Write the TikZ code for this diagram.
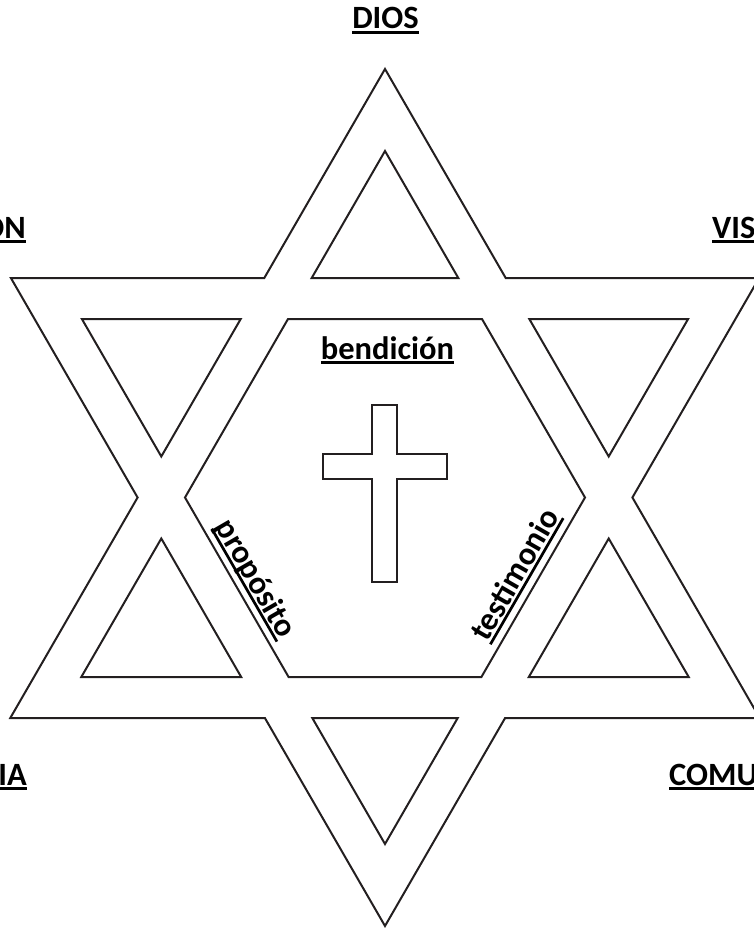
\documentclass[tikz,border=0pt]{standalone}
\usepackage{fontspec}
\setmainfont{Carlito}
\definecolor{ink}{RGB}{35,31,32}
\newsavebox\ulsave
\newcommand{\ulword}[1]{\sbox\ulsave{#1}\rlap{\rule[-4.8pt]{\wd\ulsave}{2.7pt}}\usebox\ulsave}
\begin{document}
\begin{tikzpicture}[x=1pt,y=-1pt,
  band/.style={draw=ink, line width=2pt, line join=miter},
  crossline/.style={draw=ink, line width=2.8pt, line join=miter},
  lbl/.style={font=\bfseries\fontsize{32.5}{38}\selectfont, text=black, inner sep=0pt}]
\useasboundingbox (0,0) rectangle (754,928);
% outer star outline
\draw[band] (385,69) -- (505.7,278) -- (759.1,278) -- (632.4,497.5) -- (759.7,718)
  -- (505.1,718) -- (385,926) -- (264.9,718) -- (10.3,718) -- (137.6,497.5)
  -- (10.9,278) -- (264.3,278) -- cycle;
% inner hexagon
\draw[band] (288.0,319) -- (482.0,319) -- (585.0,497.5) -- (481.4,677)
  -- (288.6,677) -- (185.0,497.5) -- cycle;
% six small triangles
\draw[band] (385,151) -- (458.3,278) -- (311.7,278) -- cycle;
\draw[band] (385,844) -- (457.7,718) -- (312.3,718) -- cycle;
\draw[band] (81.9,319) -- (240.7,319) -- (161.3,456.5) -- cycle;
\draw[band] (529.3,319) -- (688.1,319) -- (608.7,456.5) -- cycle;
\draw[band] (81.3,677) -- (241.2,677) -- (161.3,538.5) -- cycle;
\draw[band] (528.8,677) -- (688.7,677) -- (608.7,538.5) -- cycle;
% cross
\draw[crossline] (372,405) -- (397,405) -- (397,454) -- (447,454) -- (447,479)
  -- (397,479) -- (397,582) -- (372,582) -- (372,479) -- (323,479) -- (323,454)
  -- (372,454) -- cycle;
% labels
\node[lbl, anchor=base] (dios) at (385.5,29) {\ulword{DIOS}};
\node[lbl, anchor=base east] (on) at (26,238) {\ulword{ON}};
\node[lbl, anchor=base west] (vis) at (712,238) {\ulword{VIS}};
\node[lbl, anchor=base east] (ia) at (27,785) {\ulword{IA}};
\node[lbl, anchor=base west] (comu) at (669,785) {\ulword{COMU}};
\node[lbl, anchor=base] (bend) at (387.5,359) {\ulword{bendición}};
\node[lbl, rotate=-60] (prop) at (255,579) {\ulword{propósito}};
\node[lbl, rotate=60] (test) at (516,575) {\ulword{testimonio}};
\end{tikzpicture}
\end{document}
